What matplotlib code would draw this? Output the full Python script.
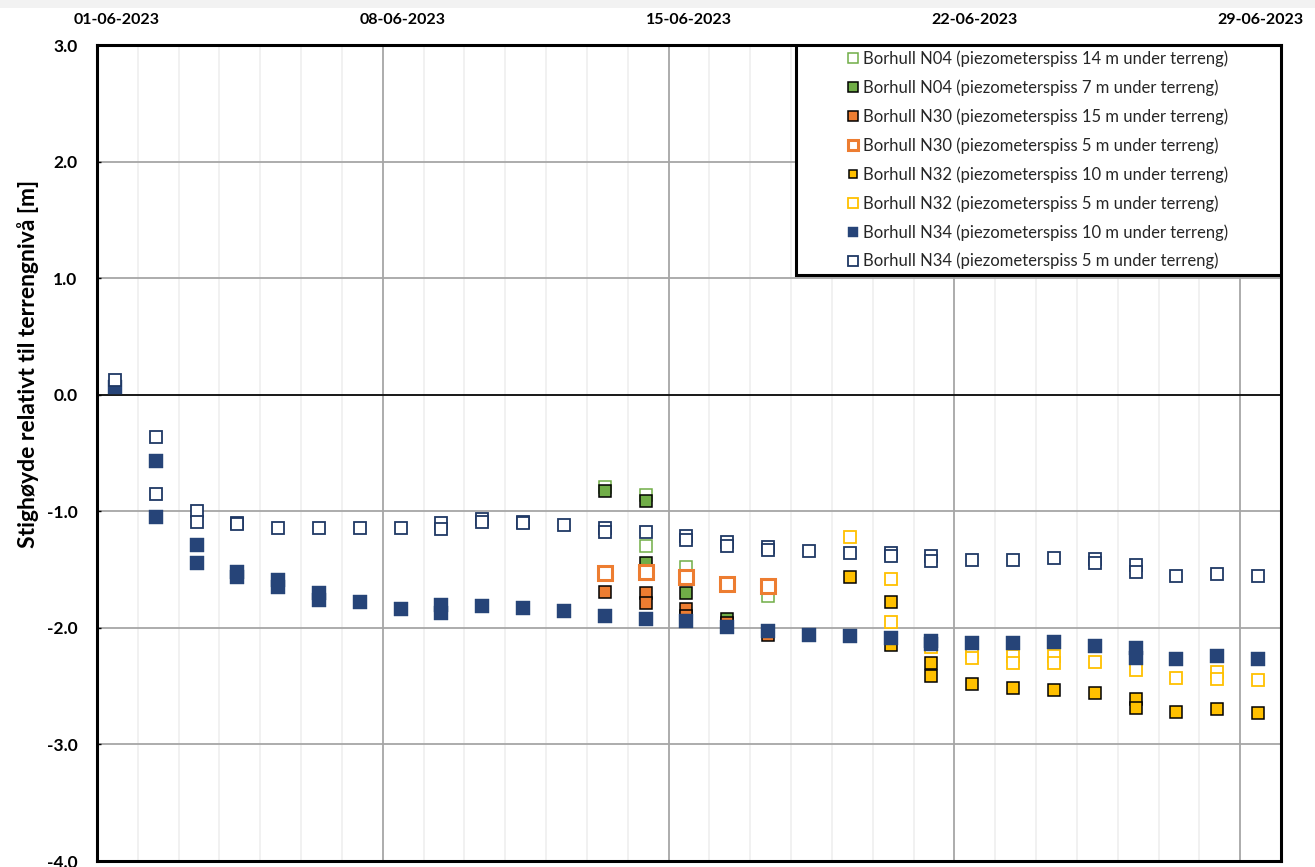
import datetime as dt

import matplotlib
matplotlib.use("Agg")
import matplotlib.pyplot as plt
import matplotlib.dates as mdates
from matplotlib.patches import Rectangle
from matplotlib.transforms import ScaledTranslation
from matplotlib.ticker import MultipleLocator, FormatStrFormatter

plt.rcParams["font.family"] = ["Lato", "DejaVu Sans"]

# Daily readings, taken around 10:30 (day of month in June 2023, level in m)
n04_14m_day = [13, 14, 14, 15, 16, 17]
n04_14m_val = [-0.79, -0.86, -1.30, -1.475, -1.64, -1.73]

n04_7m_day = [13, 14, 14, 15, 16]
n04_7m_val = [-0.825, -0.91, -1.445, -1.70, -1.92]

n30_15m_day = [13, 14, 14, 15, 15, 16, 17]
n30_15m_val = [-1.69, -1.70, -1.79, -1.84, -1.90, -1.96, -2.06]

n30_5m_day = [13, 14, 15, 16, 17]
n30_5m_val = [-1.53, -1.525, -1.56, -1.62, -1.645]

n32_10m_day = [19, 20, 20, 21, 21, 22, 23, 24, 25, 26, 26, 27, 28, 29]
n32_10m_val = [-1.56, -1.78, -2.15, -2.30, -2.41, -2.48, -2.52, -2.53,
               -2.56, -2.61, -2.69, -2.72, -2.695, -2.73]

n32_5m_day = [19, 20, 20, 21, 22, 22, 23, 23, 24, 24, 25, 26, 27, 28, 28, 29]
n32_5m_val = [-1.22, -1.58, -1.95, -2.16, -2.21, -2.26, -2.24, -2.30,
              -2.24, -2.30, -2.29, -2.36, -2.43, -2.38, -2.44, -2.445]

n34_10m_day = [1, 2, 2, 3, 3, 4, 4, 5, 5, 6, 6, 7, 8, 9, 9, 10, 11, 12, 13,
               14, 15, 16, 17, 18, 19, 20, 21, 21, 22, 23, 24, 25, 26, 26,
               27, 28, 29]
n34_10m_val = [0.07, -0.565, -1.045, -1.29, -1.445, -1.52, -1.56, -1.59,
               -1.65, -1.70, -1.76, -1.78, -1.84, -1.80, -1.875, -1.815,
               -1.83, -1.855, -1.90, -1.925, -1.945, -1.99, -2.03, -2.06,
               -2.07, -2.09, -2.11, -2.14, -2.13, -2.13, -2.125, -2.155,
               -2.17, -2.26, -2.27, -2.245, -2.27]

n34_5m_day = [1, 2, 2, 3, 3, 4, 4, 5, 6, 7, 8, 9, 9, 10, 10, 11, 11, 12,
              13, 13, 14, 15, 15, 16, 16, 17, 17, 18, 19, 20, 20, 21, 21,
              22, 23, 24, 25, 25, 26, 26, 27, 28, 29]
n34_5m_val = [0.127, -0.36, -0.85, -1.00, -1.09, -1.10, -1.11, -1.145,
              -1.145, -1.14, -1.14, -1.10, -1.15, -1.07, -1.09, -1.09, -1.10,
              -1.115, -1.14, -1.18, -1.18, -1.21, -1.25, -1.26, -1.30, -1.31,
              -1.33, -1.34, -1.36, -1.36, -1.38, -1.38, -1.43, -1.417, -1.42,
              -1.40, -1.41, -1.44, -1.46, -1.525, -1.555, -1.54, -1.555]

x_tick_days = [1, 8, 15, 22, 29]


def to_dates(days):
    return [dt.datetime(2023, 6, d, 10, 30) for d in days]


NAVY = "#264478"
NAVY_EDGE = "#1f3864"
GREEN = "#70ad47"
ORANGE = "#ed7d31"
YELLOW = "#ffc000"

fig = plt.figure(figsize=(13.15, 8.67), dpi=100)
fig.patches.append(Rectangle((0, 1 - 8 / 867), 1, 8 / 867,
                             transform=fig.transFigure,
                             facecolor="#f2f2f2", edgecolor="none"))
ax = fig.add_axes([97 / 1315, 6 / 867, 1184 / 1315, 816 / 867])

series = [
    (n04_14m_day, n04_14m_val, "Borhull N04 (piezometerspiss 14 m under terreng)",
     dict(ms=9.0, mfc="white", mec=GREEN, mew=1.1)),
    (n04_7m_day, n04_7m_val, "Borhull N04 (piezometerspiss 7 m under terreng)",
     dict(ms=9.0, mfc=GREEN, mec="black", mew=1.1)),
    (n30_15m_day, n30_15m_val, "Borhull N30 (piezometerspiss 15 m under terreng)",
     dict(ms=9.0, mfc=ORANGE, mec="black", mew=1.1)),
    (n30_5m_day, n30_5m_val, "Borhull N30 (piezometerspiss 5 m under terreng)",
     dict(ms=10.0, mfc="white", mec=ORANGE, mew=2.2)),
    (n32_10m_day, n32_10m_val, "Borhull N32 (piezometerspiss 10 m under terreng)",
     dict(ms=8.0, mfc=YELLOW, mec="black", mew=1.1)),
    (n32_5m_day, n32_5m_val, "Borhull N32 (piezometerspiss 5 m under terreng)",
     dict(ms=8.8, mfc="white", mec=YELLOW, mew=1.3)),
    (n34_10m_day, n34_10m_val, "Borhull N34 (piezometerspiss 10 m under terreng)",
     dict(ms=10.0, mfc=NAVY, mec=NAVY, mew=0.3)),
    (n34_5m_day, n34_5m_val, "Borhull N34 (piezometerspiss 5 m under terreng)",
     dict(ms=8.8, mfc="white", mec=NAVY_EDGE, mew=1.3)),
]

handles = []
for i, (days, vals, label, style) in enumerate(series):
    (h,) = ax.plot(to_dates(days), vals, linestyle="none", marker="s",
                   label=label, zorder=3 + i * 0.01, **style)
    handles.append(h)

# Axes limits and ticks
ax.set_xlim(dt.datetime(2023, 6, 1), dt.datetime(2023, 6, 30))
ax.set_ylim(-4, 3)
ax.xaxis.tick_top()
ax.xaxis.set_major_locator(mdates.DayLocator(bymonthday=x_tick_days))
ax.xaxis.set_minor_locator(mdates.DayLocator())
ax.xaxis.set_major_formatter(mdates.DateFormatter("%d-%m-%Y"))
ax.yaxis.set_major_locator(MultipleLocator(1.0))
ax.yaxis.set_major_formatter(FormatStrFormatter("%.1f"))

ax.tick_params(axis="x", which="both", length=0, pad=13,
               labelsize=11.5)
ax.tick_params(axis="y", which="major", direction="in", length=3,
               width=1, pad=14, labelsize=12.5)
for lab in ax.get_xticklabels():
    lab.set_fontweight("bold")
    lab.set_transform(lab.get_transform()
                      + ScaledTranslation(0.20, 0, fig.dpi_scale_trans))
for lab in ax.get_yticklabels():
    lab.set_fontweight("bold")

# Grid
ax.set_axisbelow(True)
ax.grid(axis="x", which="minor", color="#efefef", linewidth=1.2)
ax.grid(axis="x", which="major", color="#a6a6a6", linewidth=1.3)
ax.grid(axis="y", which="major", color="#a6a6a6", linewidth=1.3)
ax.axhline(0, color="black", linewidth=1.2, zorder=1.5)

for sp in ax.spines.values():
    sp.set_linewidth(2.2)
    sp.set_color("black")

# Legend inside a framed box in the upper right corner
box = (0.590, 0.718, 0.410, 0.282)
ax.add_patch(Rectangle(box[:2], box[2], box[3], transform=ax.transAxes,
                       facecolor="white", edgecolor="black", linewidth=2.2,
                       zorder=4))
leg = ax.legend(handles=handles, loc="center", bbox_to_anchor=box,
                frameon=False, fontsize=12, markerscale=0.78,
                handlelength=0.6, handletextpad=0.3, labelspacing=0.74,
                borderpad=0.2)
leg.set_zorder(5)
for t in leg.get_texts():
    t.set_color("#262626")

fig.text(28 / 1315, 1 - 364 / 867, "Stighøyde relativt til terrengnivå [m]",
         rotation=90, ha="center", va="center", fontsize=16.5,
         fontweight="bold")

fig.savefig("out.png", dpi=100)
